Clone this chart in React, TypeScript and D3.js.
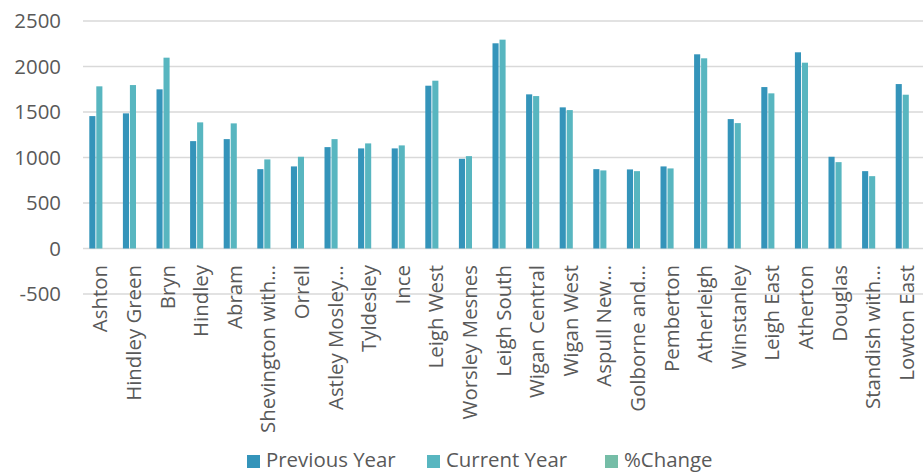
import React from "react";
import * as d3 from "d3";

const categories = [
  "Ashton", "Hindley Green", "Bryn", "Hindley", "Abram", "Shevington with…", "Orrell",
  "Astley Mosley…", "Tyldesley", "Ince", "Leigh West", "Worsley Mesnes", "Leigh South",
  "Wigan Central", "Wigan West", "Aspull New…", "Golborne and…", "Pemberton", "Atherleigh",
  "Winstanley", "Leigh East", "Atherton", "Douglas", "Standish with…", "Lowton East",
];
const previousYear = [
  1455, 1485, 1749, 1180, 1202, 872, 902, 1114, 1100, 1100, 1789, 986, 2255,
  1694, 1551, 872, 869, 902, 2134, 1422, 1774, 2156, 1008, 850, 1807,
];
const currentYear = [
  1782, 1796, 2097, 1386, 1375, 979, 1008, 1202, 1155, 1133, 1844, 1015, 2295,
  1675, 1521, 858, 850, 880, 2090, 1378, 1705, 2042, 949, 795, 1690,
];
const pctChange = [
  0.22, 0.21, 0.2, 0.17, 0.14, 0.12, 0.12, 0.08, 0.05, 0.03, 0.03, 0.03, 0.02,
  -0.01, -0.02, -0.02, -0.02, -0.02, -0.02, -0.03, -0.04, -0.05, -0.06, -0.06, -0.06,
];
const yTicks = [-500, 0, 500, 1000, 1500, 2000, 2500];
const seriesNames = ["Previous Year", "Current Year", "%Change"];
const seriesColors = ["#3494BA", "#58B6C0", "#75BDA7"];

const W = 923;
const H = 472;
const FONT = "'Open Sans', sans-serif";
const TEXT = "#595959";
const FS = 20.4;

export default function App() {
  const x0 = d3.scaleBand<string>().domain(categories).range([83, 923]).paddingInner(0).paddingOuter(0);
  const y = d3.scaleLinear().domain([-500, 2500]).range([294, 21]);
  const bw = x0.bandwidth();
  const slot = bw / (3 + 1.8);
  const offset = (bw - slot * 3) / 2;
  const series = [previousYear, currentYear, pctChange];

  return (
    <svg width={W} height={H} style={{ position: "absolute", left: 0, top: 0, background: "#fff" }}>
      {yTicks.map((t) => (
        <g key={t}>
          <line x1={83} x2={923} y1={y(t)} y2={y(t)} stroke="#D9D9D9" strokeWidth={1.5} />
          <text x={61} y={y(t)} dy="0.35em" textAnchor="end" fontFamily={FONT} fontSize={FS} fill={TEXT}>
            {t}
          </text>
        </g>
      ))}
      {categories.map((c, i) => {
        const bx = x0(c)!;
        return (
          <g key={c}>
            {series.map((s, k) => {
              const v = s[i];
              const top = y(Math.max(0, v));
              const bot = y(Math.min(0, v));
              return (
                <rect
                  key={k}
                  x={bx + offset + k * slot}
                  y={top}
                  width={slot - 0.9}
                  height={Math.max(bot - top, 0.0)}
                  fill={seriesColors[k]}
                />
              );
            })}
            <text
              transform={`translate(${bx + bw / 2 + 0.5},265) rotate(-90)`}
              dy="0.35em"
              textAnchor="end"
              fontFamily={FONT}
              fontSize={FS}
              fill={TEXT}
            >
              {c}
            </text>
          </g>
        );
      })}
      {seriesNames.map((n, k) => {
        const xs = [247, 427, 605][k];
        return (
          <g key={n}>
            <rect x={xs} y={455} width={13} height={13} fill={seriesColors[k]} />
            <text x={xs + 19} y={466.5} fontFamily={FONT} fontSize={FS} fill={TEXT}>
              {n}
            </text>
          </g>
        );
      })}
    </svg>
  );
}
